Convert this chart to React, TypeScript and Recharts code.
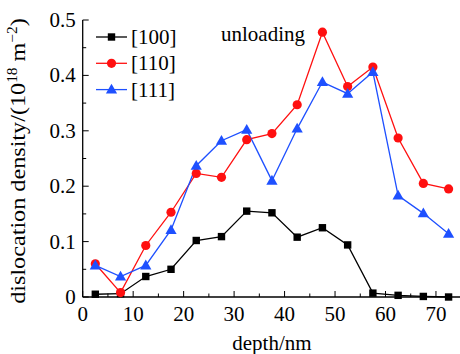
import React from 'react';
import { LineChart, Line, XAxis, YAxis, Legend } from 'recharts';

const depth = [2.5, 7.5, 12.5, 17.5, 22.5, 27.5, 32.5, 37.5, 42.5, 47.5, 52.5, 57.5, 62.5, 67.5, 72.5];
const s100 = [0.005, 0.006, 0.037, 0.05, 0.102, 0.109, 0.155, 0.152, 0.108, 0.125, 0.094, 0.007, 0.003, 0.001, 0.0];
const s110 = [0.06, 0.008, 0.093, 0.153, 0.223, 0.216, 0.284, 0.295, 0.347, 0.478, 0.38, 0.415, 0.287, 0.205, 0.195];
const s111 = [0.057, 0.037, 0.057, 0.121, 0.237, 0.282, 0.302, 0.21, 0.304, 0.388, 0.367, 0.406, 0.183, 0.151, 0.114];
const seriesNames = ['[100]', '[110]', '[111]'];
const xTicks = [0, 5, 10, 15, 20, 25, 30, 35, 40, 45, 50, 55, 60, 65, 70, 75];
const yTicks = [0, 0.05, 0.1, 0.15, 0.2, 0.25, 0.3, 0.35, 0.4, 0.45, 0.5];
const annotation = 'unloading';

const FONT = '"Liberation Serif", "Times New Roman", serif';
const BLACK = '#000000';
const RED = '#ff1010';
const BLUE = '#1e50ff';

const data = depth.map((d, i) => ({ depth: d, a: s100[i], b: s110[i], c: s111[i] }));

const isMajorX = (v: number) => Math.abs(v % 10) < 1e-6;
const isMajorY = (v: number) => Math.abs((v * 10) - Math.round(v * 10)) < 1e-6;

const XTick = (props: any) => {
  const { x, y, payload } = props;
  const v = payload.value;
  const major = isMajorX(v);
  return (
    <g>
      <line x1={x} x2={x} y1={y} y2={y - (major ? 6 : 3.5)} stroke="#000" strokeWidth={1} />
      {major && v <= 70 && (
        <text x={x} y={y + 24} textAnchor="middle" fontFamily={FONT} fontSize={21} fill="#000">
          {v}
        </text>
      )}
    </g>
  );
};

const TopTick = (props: any) => {
  const { x, y, payload } = props;
  const major = isMajorX(payload.value);
  return <line x1={x} x2={x} y1={y} y2={y + (major ? 6 : 3.5)} stroke="#000" strokeWidth={1} />;
};

const YTick = (props: any) => {
  const { x, y, payload } = props;
  const v = payload.value;
  const major = isMajorY(v);
  const label = v === 0 ? '0' : v.toFixed(1);
  return (
    <g>
      <line x1={x} x2={x + (major ? 6 : 3.5)} y1={y} y2={y} stroke="#000" strokeWidth={1} />
      {major && (
        <text x={x - 7} y={y + 7} textAnchor="end" fontFamily={FONT} fontSize={21} fill="#000">
          {label}
        </text>
      )}
    </g>
  );
};

const Square = (props: any) => {
  const { cx, cy } = props;
  if (cx == null || cy == null) return null;
  return <rect x={cx - 3.7} y={cy - 3.7} width={7.4} height={7.4} fill={BLACK} />;
};
const Circle = (props: any) => {
  const { cx, cy } = props;
  if (cx == null || cy == null) return null;
  return <circle cx={cx} cy={cy} r={4.6} fill={RED} />;
};
const Tri = (props: any) => {
  const { cx, cy } = props;
  if (cx == null || cy == null) return null;
  return <path d={`M${cx},${cy - 5.8} L${cx - 5.6},${cy + 4} L${cx + 5.6},${cy + 4} Z`} fill={BLUE} />;
};

const markerFor = (i: number, cx: number, cy: number) => {
  if (i === 0) return <Square cx={cx} cy={cy} />;
  if (i === 1) return <Circle cx={cx} cy={cy} />;
  return <Tri cx={cx} cy={cy} />;
};

const colors = [BLACK, RED, BLUE];

const LegendContent = () => (
  <svg width={100} height={80}>
    {seriesNames.map((n, i) => {
      const cy = 12 + i * 26.3;
      return (
        <g key={n}>
          <line x1={4} x2={35} y1={cy} y2={cy} stroke={colors[i]} strokeWidth={1.3} />
          {markerFor(i, 19.5, cy)}
          <text x={39} y={cy + 7} fontFamily={FONT} fontSize={21} fill="#000">
            {n}
          </text>
        </g>
      );
    })}
  </svg>
);

const YLabel = () => (
  <text
    x={0}
    y={0}
    transform="translate(25,161) rotate(-90) scale(1.1,1)"
    textAnchor="middle"
    fontFamily={FONT}
    fontSize={22}
    fill="#000"
  >
    dislocation density/(10
    <tspan fontSize={14} dy={-8}>18</tspan>
    <tspan dy={8}> m</tspan>
    <tspan fontSize={14} dy={-8}>−2</tspan>
    <tspan dy={8}>)</tspan>
  </text>
);

export default function App() {
  return (
    <div style={{ position: 'absolute', left: 0, top: 0, width: 460, height: 354, overflow: 'hidden', background: '#fff' }}>
      <LineChart
        width={462}
        height={354}
        data={data}
        margin={{ top: 20, right: 0.8, bottom: 17, left: 22.7 }}
      >
        <XAxis
          dataKey="depth"
          type="number"
          domain={[0, 75]}
          ticks={xTicks}
          interval={0}
          tickSize={0}
          tickMargin={0}
          tick={<XTick />}
          axisLine={{ stroke: '#000', strokeWidth: 1.3 }}
          tickLine={false}
          height={40}
          label={{ value: 'depth/nm', position: 'insideBottom', offset: -13, fontFamily: FONT, fontSize: 21, fill: '#000' }}
        />
        <XAxis
          xAxisId="top"
          orientation="top"
          dataKey="depth"
          type="number"
          domain={[0, 75]}
          ticks={xTicks}
          interval={0}
          tickSize={0}
          tickMargin={0}
          tick={<TopTick />}
          axisLine={{ stroke: '#000', strokeWidth: 1.3 }}
          tickLine={false}
          height={0}
        />
        <YAxis
          type="number"
          domain={[0, 0.5]}
          ticks={yTicks}
          interval={0}
          tickSize={0}
          tickMargin={0}
          tick={<YTick />}
          axisLine={{ stroke: '#000', strokeWidth: 1.3 }}
          tickLine={false}
          width={60}
          label={<YLabel />}
        />
        <Legend
          layout="horizontal"
          verticalAlign="middle"
          align="center"
          content={<LegendContent />}
          wrapperStyle={{ position: 'absolute', left: 92, top: 25, width: 100, height: 80 }}
        />
        <Line dataKey="a" name={seriesNames[0]} stroke={BLACK} strokeWidth={1.3} dot={<Square />} isAnimationActive={false} />
        <Line dataKey="b" name={seriesNames[1]} stroke={RED} strokeWidth={1.3} dot={<Circle />} isAnimationActive={false} />
        <Line dataKey="c" name={seriesNames[2]} stroke={BLUE} strokeWidth={1.3} dot={<Tri />} isAnimationActive={false} />
      </LineChart>
      <div
        style={{
          position: 'absolute',
          left: 221,
          top: 22,
          fontFamily: FONT,
          fontSize: 21,
          lineHeight: '24px',
          color: '#000',
        }}
      >
        {annotation}
      </div>
    </div>
  );
}
